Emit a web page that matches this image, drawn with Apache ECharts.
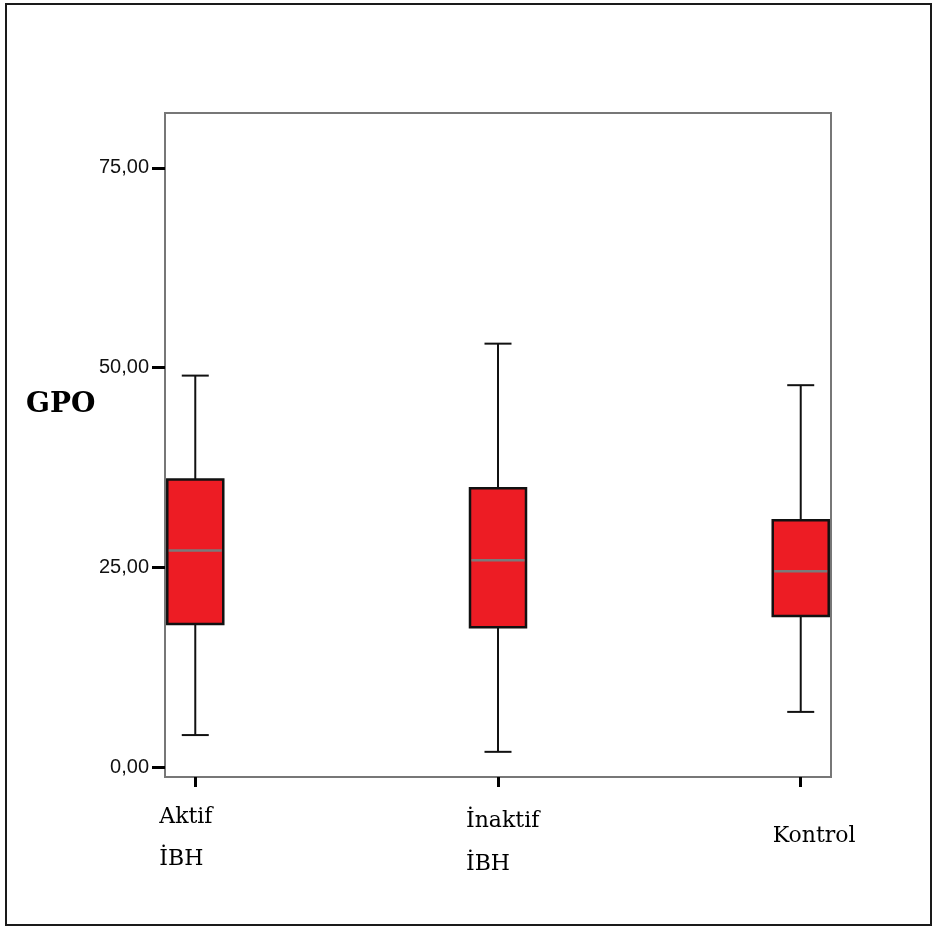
<!DOCTYPE html>
<html>
<head>
<meta charset="utf-8">
<script src="https://cdn.jsdelivr.net/npm/echarts@6/dist/echarts.min.js"></script>
<style>
  html, body { margin: 0; padding: 0; background: #fff; }
  #frame { position: absolute; left: 5px; top: 3px; width: 923px; height: 919px; border: 2px solid #1a1a1a; }
  #chart { position: absolute; left: 0; top: 0; width: 934px; height: 928px; }
</style>
</head>
<body>
<div id="frame"></div>
<div id="chart"></div>
<script>
// ---- data ----
const categories = ['Aktif\nİBH', 'İnaktif\nİBH', 'Kontrol'];
const categoryKeys = ['a', 'b', 'c'];
const whiskerLow  = [4.0, 1.9, 6.9];
const q1          = [17.9, 17.5, 18.9];
const median      = [27.1, 25.9, 24.5];
const q3          = [36.0, 34.9, 30.9];
const whiskerHigh = [49.0, 53.0, 47.8];
const yTicks = [0, 25, 50, 75];
const yTitle = 'GPO';

const boxData = categories.map((c, i) => [i, whiskerLow[i], q1[i], median[i], q3[i], whiskerHigh[i]]);

const chart = echarts.init(document.getElementById('chart'), null, { renderer: 'canvas' });

const BOX_W = 56, CAP_W = 27;

function renderBox(params, api) {
  const x = api.value(0);
  const pLow = api.coord([x, api.value(1)]);
  const pQ1 = api.coord([x, api.value(2)]);
  const pMed = api.coord([x, api.value(3)]);
  const pQ3 = api.coord([x, api.value(4)]);
  const pHigh = api.coord([x, api.value(5)]);
  const cx = pLow[0];
  const lineStyle = { stroke: '#111', lineWidth: 2 };
  return {
    type: 'group',
    children: [
      { type: 'line', shape: { x1: cx, y1: pHigh[1], x2: cx, y2: pQ3[1] }, style: lineStyle },
      { type: 'line', shape: { x1: cx, y1: pQ1[1], x2: cx, y2: pLow[1] }, style: lineStyle },
      { type: 'line', shape: { x1: cx - CAP_W / 2, y1: pHigh[1], x2: cx + CAP_W / 2, y2: pHigh[1] }, style: lineStyle },
      { type: 'line', shape: { x1: cx - CAP_W / 2, y1: pLow[1], x2: cx + CAP_W / 2, y2: pLow[1] }, style: lineStyle },
      { type: 'rect', shape: { x: cx - BOX_W / 2, y: pQ3[1], width: BOX_W, height: pQ1[1] - pQ3[1] },
        style: { fill: '#ED1C24', stroke: '#111', lineWidth: 2.5 } },
      { type: 'line', shape: { x1: cx - BOX_W / 2 + 1.5, y1: pMed[1], x2: cx + BOX_W / 2 - 1.5, y2: pMed[1] },
        style: { stroke: '#7a7a7a', lineWidth: 2.5 } }
    ]
  };
}

const labelFont = { fontFamily: 'DejaVu Serif', fontSize: 22, color: '#000', align: 'left' };

const option = {
  animation: false,
  backgroundColor: 'transparent',
  grid: { left: 165, right: 103, top: 113, bottom: 151, show: true, borderColor: '#777', borderWidth: 2, backgroundColor: 'transparent' },
  graphic: [{
    type: 'text', left: 26, top: 391,
    style: { text: yTitle, font: 'bold 28px "DejaVu Serif"', fill: '#000' }
  }],
  xAxis: {
    type: 'value', min: -0.1, max: 2.1,
    splitLine: { show: false },
    axisLine: { show: false, onZero: false },
    axisTick: { show: true, customValues: [0, 1, 2], length: 10, lineStyle: { color: '#000', width: 3 } },
    axisLabel: {
      customValues: [0, 1, 2],
      margin: 19,
      align: 'center',
      verticalAlign: 'top',
      formatter: function (v) {
        const i = Math.round(v);
        const k = categoryKeys[i];
        const lines = categories[i].split('\n');
        return lines.map((l, j) => '{' + k + (j + 1) + '|' + l + '}').join('\n');
      },
      rich: {
        a1: Object.assign({ width: 72, lineHeight: 42 }, labelFont),
        a2: Object.assign({ width: 72, lineHeight: 42 }, labelFont),
        b1: Object.assign({ width: 64, lineHeight: 50 }, labelFont),
        b2: Object.assign({ width: 64, lineHeight: 36 }, labelFont),
        c1: Object.assign({ width: 56, lineHeight: 80 }, labelFont)
      }
    }
  },
  yAxis: {
    type: 'value', min: -1.25, max: 81.875,
    splitLine: { show: false },
    axisLine: { show: false, onZero: false },
    axisTick: { show: true, customValues: yTicks, length: 13, lineStyle: { color: '#000', width: 3 } },
    axisLabel: {
      customValues: yTicks,
      margin: 16,
      fontFamily: 'Liberation Sans', fontSize: 20, color: '#111',
      formatter: v => v.toFixed(2).replace('.', ',')
    }
  },
  series: [{
    type: 'custom',
    renderItem: renderBox,
    encode: { x: 0, y: [1, 2, 3, 4, 5] },
    data: boxData,
    clip: false
  }]
};
chart.setOption(option);
</script>
</body>
</html>
